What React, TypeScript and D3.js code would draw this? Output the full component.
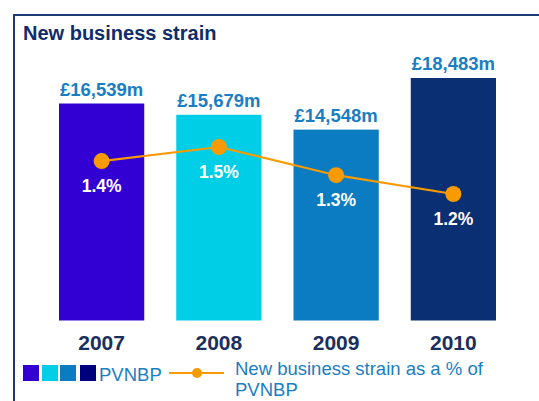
import { useEffect, useRef } from "react";
import * as d3 from "d3";

const years = ["2007", "2008", "2009", "2010"];
const pvnbp = [16539, 15679, 14548, 18483];
const strainPct = [1.41, 1.5, 1.32, 1.2];
const strainLabels = ["1.4%", "1.5%", "1.3%", "1.2%"];
const barColors = ["#3300d4", "#00cee6", "#0b7bc2", "#0b2f73"];
const legendColors = ["#3300d4", "#00cee6", "#0b7bc2", "#00007f"];

const WIDTH = 539;
const HEIGHT = 401;
const FONT = "'Liberation Sans', Arial, sans-serif";
const NAVY = "#0f2c6b";
const BLUE = "#1a7ec4";
const ORANGE = "#f99b00";

function StrainChart() {
  const ref = useRef<SVGSVGElement>(null);

  useEffect(() => {
    if (!ref.current) return;
    const svg = d3.select(ref.current);
    svg.selectAll("*").remove();
    svg.attr("width", WIDTH).attr("height", HEIGHT);

    // frame: top and left rules only
    svg
      .append("path")
      .attr("d", `M14,${HEIGHT} V15 H${WIDTH}`)
      .attr("fill", "none")
      .attr("stroke", "#1d3a78")
      .attr("stroke-width", 2);

    svg
      .append("text")
      .attr("x", 23)
      .attr("y", 40)
      .attr("fill", NAVY)
      .style("font", `bold 20px ${FONT}`)
      .text("New business strain");

    const x = d3.scaleBand<string>().domain(years).range([59, 496]).paddingInner(0.273);
    const y = d3.scaleLinear().domain([0, 20000]).range([320.5, 58.1]);
    const yPct = d3.scaleLinear().domain([1.2, 1.5]).range([194, 147]);
    const fmt = d3.format(",");

    const bars = svg.append("g");
    bars
      .selectAll("rect")
      .data(pvnbp)
      .join("rect")
      .attr("x", (_d, i) => x(years[i]) ?? 0)
      .attr("y", (d) => y(d))
      .attr("width", x.bandwidth())
      .attr("height", (d) => y(0) - y(d))
      .attr("fill", (_d, i) => barColors[i]);

    bars
      .selectAll("text.val")
      .data(pvnbp)
      .join("text")
      .attr("class", "val")
      .attr("x", (_d, i) => (x(years[i]) ?? 0) + x.bandwidth() / 2)
      .attr("y", (d) => y(d) - 8)
      .attr("text-anchor", "middle")
      .attr("fill", BLUE)
      .style("font", `bold 18.5px ${FONT}`)
      .text((d) => `£${fmt(d)}m`);

    bars
      .selectAll("text.year")
      .data(years)
      .join("text")
      .attr("class", "year")
      .attr("x", (d) => (x(d) ?? 0) + x.bandwidth() / 2)
      .attr("y", 350)
      .attr("text-anchor", "middle")
      .attr("fill", "#1b2f5e")
      .style("font", `bold 21px ${FONT}`)
      .text((d) => d);

    const cx = (i: number) => (x(years[i]) ?? 0) + x.bandwidth() / 2;
    const line = d3
      .line<number>()
      .x((_d, i) => cx(i))
      .y((d) => yPct(d));

    svg
      .append("path")
      .datum(strainPct)
      .attr("fill", "none")
      .attr("stroke", ORANGE)
      .attr("stroke-width", 2.2)
      .attr("d", line);

    svg
      .append("g")
      .selectAll("circle")
      .data(strainPct)
      .join("circle")
      .attr("cx", (_d, i) => cx(i))
      .attr("cy", (d) => yPct(d))
      .attr("r", 8)
      .attr("fill", ORANGE);

    svg
      .append("g")
      .selectAll("text")
      .data(strainPct)
      .join("text")
      .attr("x", (_d, i) => cx(i))
      .attr("y", (d) => yPct(d) + 31)
      .attr("text-anchor", "middle")
      .attr("fill", "#ffffff")
      .style("font", `bold 17.5px ${FONT}`)
      .text((_d, i) => strainLabels[i]);

    // legend
    const legend = svg.append("g");
    legend
      .selectAll("rect")
      .data(legendColors)
      .join("rect")
      .attr("x", (_d, i) => [23, 42, 60, 80][i])
      .attr("y", 365)
      .attr("width", 16)
      .attr("height", 16)
      .attr("fill", (d) => d);

    legend
      .append("text")
      .attr("x", 99)
      .attr("y", 381)
      .attr("fill", BLUE)
      .style("font", `18.5px ${FONT}`)
      .text("PVNBP");

    legend
      .append("line")
      .attr("x1", 169)
      .attr("x2", 224)
      .attr("y1", 373)
      .attr("y2", 373)
      .attr("stroke", ORANGE)
      .attr("stroke-width", 2.2);
    legend.append("circle").attr("cx", 197).attr("cy", 373).attr("r", 5).attr("fill", ORANGE);

    const legText = legend
      .append("text")
      .attr("fill", BLUE)
      .style("font", `18.5px ${FONT}`);
    legText.append("tspan").attr("x", 235).attr("y", 375).text("New business strain as a % of");
    legText.append("tspan").attr("x", 235).attr("y", 396).text("PVNBP");
  }, []);

  return <svg ref={ref} style={{ position: "absolute", left: 0, top: 0, display: "block" }} />;
}

export default function App() {
  return <StrainChart />;
}
